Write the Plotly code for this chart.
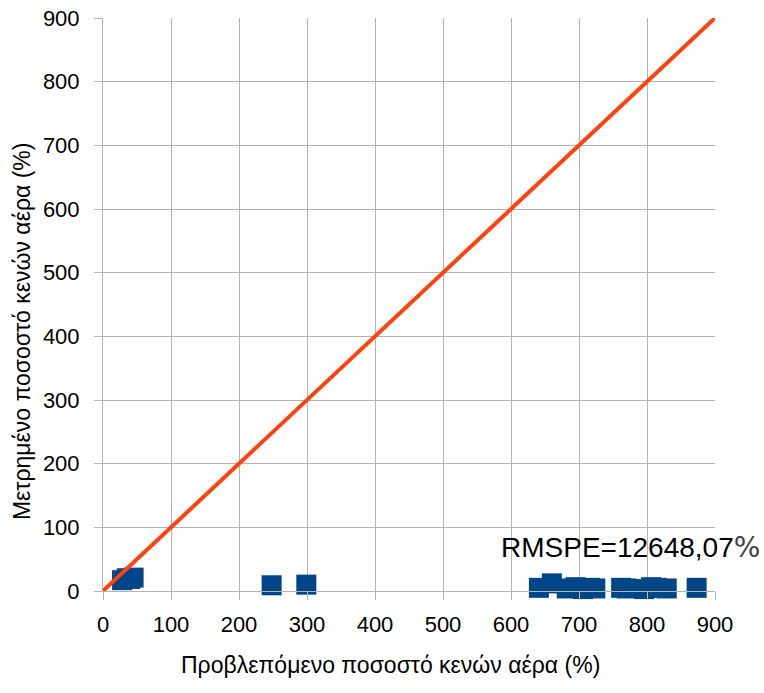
import plotly.graph_objects as go

predicted = [28, 35, 40, 45, 248, 299, 641, 660, 682, 695, 706, 716, 724, 762, 770, 796, 806, 814, 829, 873]
measured = [17, 20, 19, 21, 9, 10, 5, 12, 4, 6, 3, 5, 4, 5, 4, 3, 6, 5, 4, 5]
line_x = [0, 900]
line_y = [0, 900]
ticks = [0, 100, 200, 300, 400, 500, 600, 700, 800, 900]
rmspe_label = "RMSPE=12648,07"
rmspe_unit = "%"
x_title = "Προβλεπόμενο ποσοστό κενών αέρα (%)"
y_title = "Μετρημένο ποσοστό κενών αέρα (%)"

fig = go.Figure()
fig.add_trace(go.Scatter(x=predicted, y=measured, mode="markers",
                         marker=dict(symbol="square", size=20, color="#004586",
                                     line=dict(width=0)),
                         showlegend=False, cliponaxis=False))
fig.add_trace(go.Scatter(x=line_x, y=line_y, mode="lines",
                         line=dict(color="#ff420e", width=4),
                         showlegend=False))

axis_common = dict(range=[0, 900], tickvals=ticks, showgrid=True, gridcolor="#b3b3b3",
                   gridwidth=1, showline=True, linecolor="#b3b3b3", linewidth=1,
                   ticks="outside", ticklen=8, tickcolor="#b3b3b3", zeroline=False,
                   tickfont=dict(family="Liberation Sans", size=22, color="#000000"),
                   mirror=False, automargin=False)
fig.update_xaxes(**axis_common, ticklabelstandoff=6)
fig.update_yaxes(**axis_common, ticklabelstandoff=10)

title_font = dict(family="Liberation Sans", size=23, color="#000000")
fig.add_annotation(xref="paper", yref="paper", x=0.469, y=-0.129, text=x_title,
                   showarrow=False, font=title_font, xanchor="center", yanchor="middle")
fig.add_annotation(xref="paper", yref="paper", x=-0.132, y=0.454, text=y_title,
                   showarrow=False, font=title_font, textangle=-90,
                   xanchor="center", yanchor="middle")

fig.add_annotation(x=775, y=69,
                   text=rmspe_label + '<span style="font-family:DejaVu Sans;color:#444444">'
                   + rmspe_unit + "</span>",
                   showarrow=False,
                   font=dict(family="Liberation Sans", size=28, color="#000000"))

fig.update_layout(width=764, height=693, plot_bgcolor="white", paper_bgcolor="white",
                  margin=dict(l=103, r=49, t=18, b=102))
fig.write_html("out.html", config={"displayModeBar": False},
               post_script="document.body.style.margin='0';")
